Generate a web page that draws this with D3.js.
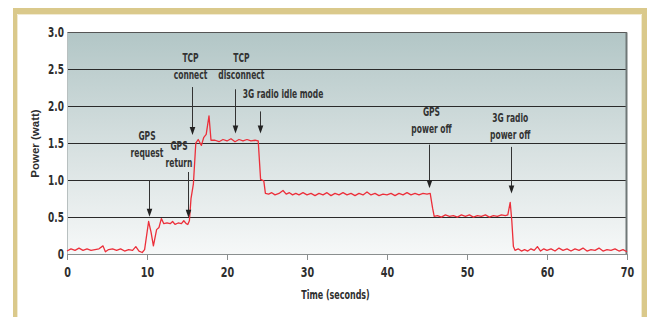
<!DOCTYPE html>
<html>
<head>
<meta charset="utf-8">
<script src="https://cdn.jsdelivr.net/npm/d3@7"></script>
<style>
  body { margin: 0; background: #fff; }
  svg { display: block; }
</style>
</head>
<body>
<div id="chart"></div>
<script>
// power trace (seconds, watt)
var times = [0, 0.5, 1, 1.5, 2, 2.5, 3, 3.5, 4, 4.5, 4.8, 5.2, 5.7, 6.2, 6.7, 7.2, 7.7, 8.2, 8.6, 9, 9.4, 9.7,
    10.2, 10.5, 10.8, 11.2, 11.5, 11.8, 12.1, 12.5, 12.9, 13.2, 13.5, 13.9, 14.3, 14.6, 14.9, 15.1, 15.3,
    15.5, 15.8, 16.1, 16.4, 16.8, 17.1, 17.4, 17.75, 18, 18.5, 19, 19.5, 20, 20.5, 21, 21.5, 22, 22.5, 23, 23.5, 23.9,
    24.2, 24.6, 24.8, 25.2, 25.6, 26, 26.5, 27, 27.4, 27.8, 28.2, 28.6, 29, 29.5, 30, 30.5, 31, 31.5, 32, 32.5,
    33, 33.5, 34, 34.5, 35, 35.5, 36, 36.5, 37, 37.5, 38, 38.5, 39, 39.5, 40, 40.5, 41, 41.5, 42, 42.5, 43, 43.5,
    44, 44.5, 45, 45.4, 45.7, 45.9, 46.3, 46.8, 47.3, 47.8, 48.3, 48.8, 49.3, 49.8, 50.3, 50.8, 51.3, 51.8, 52.3,
    52.8, 53.3, 53.8, 54.3, 54.8, 55.1, 55.4, 55.6, 55.8, 56, 56.4, 56.8, 57.2, 57.6, 58, 58.4, 58.8, 59.2, 59.6,
    60, 60.5, 61, 61.5, 62, 62.5, 63, 63.5, 64, 64.5, 65, 65.5, 66, 66.5, 67, 67.5, 68, 68.5, 69, 69.5, 70];
var power = [0.04, 0.07, 0.05, 0.08, 0.05, 0.07, 0.05, 0.06, 0.07, 0.11, 0.03, 0.06, 0.07, 0.05, 0.07, 0.04, 0.06, 0.05, 0.1, 0.04, 0.02, 0.06,
    0.44, 0.3, 0.11, 0.33, 0.36, 0.48, 0.41, 0.42, 0.41, 0.44, 0.4, 0.42, 0.41, 0.45, 0.41, 0.4, 0.45,
    0.75, 0.95, 1.5, 1.55, 1.47, 1.58, 1.62, 1.87, 1.54, 1.54, 1.52, 1.55, 1.53, 1.56, 1.52, 1.55, 1.53, 1.55, 1.53, 1.54, 1.53,
    1.01, 0.99, 0.82, 0.81, 0.83, 0.8, 0.82, 0.86, 0.81, 0.83, 0.8, 0.82, 0.8, 0.83, 0.8, 0.82, 0.79, 0.82, 0.8, 0.83,
    0.79, 0.82, 0.8, 0.83, 0.8, 0.82, 0.79, 0.82, 0.8, 0.84, 0.8, 0.82, 0.79, 0.81, 0.8, 0.82, 0.79, 0.82, 0.8, 0.83, 0.8, 0.82,
    0.8, 0.82, 0.81, 0.82, 0.62, 0.51, 0.52, 0.5, 0.53, 0.51, 0.52, 0.5, 0.53, 0.51, 0.53, 0.5, 0.52, 0.51, 0.53,
    0.5, 0.52, 0.51, 0.53, 0.52, 0.53, 0.7, 0.45, 0.1, 0.05, 0.07, 0.04, 0.06, 0.04, 0.07, 0.05, 0.1, 0.04, 0.07,
    0.05, 0.07, 0.04, 0.08, 0.05, 0.07, 0.04, 0.07, 0.05, 0.08, 0.04, 0.06, 0.05, 0.08, 0.04, 0.06, 0.05, 0.07, 0.04, 0.06, 0.03];

var xTicks = [0, 10, 20, 30, 40, 50, 60, 70];
var yTicks = [0, 0.5, 1, 1.5, 2, 2.5, 3];
var yTickLabels = ["0", "0.5", "1.0", "1.5", "2.0", "2.5", "3.0"];

// event annotations
var noteLines = [["GPS", "request"], ["GPS", "return"], ["TCP", "connect"], ["TCP", "disconnect"],
    ["3G radio idle mode"], ["GPS", "power off"], ["3G radio", "power off"]];
var noteTime = [10.2, 15.16, 15.6, 21.0, 24.1, 45.3, 55.5];
var noteFrom = [1.0, 1.11, 2.26, 2.23, 1.93, 1.48, 1.45];
var noteTo = [0.505, 0.49, 1.61, 1.63, 1.63, 0.89, 0.82];
var noteLabelT = [10.0, 14.0, 15.44, 21.8, 27.0, 45.56, 55.4];
var noteLabelW = [1.543, 1.408, 2.599, 2.599, 2.112, 1.872, 1.791];

var W = 647, H = 317;
var narrow = "'Liberation Sans Narrow', 'DejaVu Sans Condensed', 'Arial Narrow', sans-serif";

var svg = d3.select("#chart").append("svg")
    .attr("width", W)
    .attr("height", H);

// tan frame
svg.append("path")
    .attr("d", "M13,8H660V330H13Z M17,14V330H642V14Z")
    .attr("fill", "#dac98b")
    .attr("fill-rule", "evenodd");
svg.append("path")
    .attr("d", "M17.5,330V14.5H641.5V330")
    .attr("fill", "none")
    .attr("stroke", "#f1ead2")
    .attr("stroke-width", 1);

var x = d3.scaleLinear().domain([0, 70]).range([67, 627]);
var y = d3.scaleLinear().domain([0, 3]).range([254, 32.4]);

// plot background gradient
var grad = svg.append("defs").append("linearGradient")
    .attr("id", "bg")
    .attr("x1", 0).attr("y1", 0).attr("x2", 0).attr("y2", 1);
grad.append("stop").attr("offset", "0%").attr("stop-color", "#b2c6c6");
grad.append("stop").attr("offset", "55%").attr("stop-color", "#d9e2e2");
grad.append("stop").attr("offset", "100%").attr("stop-color", "#f6f8f8");

svg.append("rect")
    .attr("x", x(0))
    .attr("y", y(3))
    .attr("width", x(70) - x(0))
    .attr("height", y(0) - y(3))
    .attr("fill", "url(#bg)");

// horizontal grid lines
svg.append("g")
    .selectAll("line")
    .data(yTicks.filter(function(d) { return d > 0; }))
    .enter()
    .append("line")
    .attr("x1", x(0))
    .attr("x2", x(70))
    .attr("y1", function(d) { return Math.round(y(d)) + 0.5; })
    .attr("y2", function(d) { return Math.round(y(d)) + 0.5; })
    .attr("stroke", function(d) { return d == 3 ? "#555" : "#2a2a2a"; })
    .attr("stroke-width", 1);

// left and right edges of plot
svg.append("line")
    .attr("x1", x(0) + 0.5).attr("x2", x(0) + 0.5)
    .attr("y1", y(3)).attr("y2", y(0))
    .attr("stroke", "#b8c0c0");
svg.append("line")
    .attr("x1", x(70) - 0.5).attr("x2", x(70) - 0.5)
    .attr("y1", y(3)).attr("y2", y(0))
    .attr("stroke", "#6f7777")
    .attr("stroke-width", 2);

// x axis
var xAxis = svg.append("g")
    .attr("transform", "translate(0," + Math.round(y(0)) + ")")
    .call(d3.axisBottom(x).tickValues(xTicks).tickSize(6).tickPadding(6).tickFormat(d3.format("d")));
xAxis.select(".domain").attr("stroke", "#8a8f8f");
xAxis.selectAll(".tick line").attr("stroke", "#8a8f8f");
xAxis.selectAll(".tick text")
    .attr("y", 23)
    .attr("dy", null)
    .attr("x", 0)
    .attr("transform", "scale(0.74,1)")
    .style("font-family", narrow)
    .style("font-weight", "bold")
    .style("font-size", "14.5px")
    .attr("fill", "#2e2e2e");

// y tick labels
svg.append("g")
    .selectAll("text")
    .data(yTicks)
    .enter()
    .append("text")
    .attr("transform", function(d) { return "translate(64," + (y(d) + 4.5) + ") scale(0.74,1)"; })
    .style("text-anchor", "end")
    .style("font-family", narrow)
    .style("font-weight", "bold")
    .style("font-size", "13.5px")
    .attr("fill", "#2e2e2e")
    .text(function(d, i) { return yTickLabels[i]; });

// axis titles
svg.append("text")
    .attr("transform", "translate(38.5," + 143.5 + ") rotate(-90)")
    .style("text-anchor", "middle")
    .style("font-family", "'Liberation Sans', Arial, sans-serif")
    .style("font-weight", "bold")
    .style("font-size", "11.5px")
    .attr("fill", "#2e2e2e")
    .text("Power (watt)");

svg.append("text")
    .attr("transform", "translate(335.5,299) scale(0.71,1)")
    .style("text-anchor", "middle")
    .style("font-family", narrow)
    .style("font-weight", "bold")
    .style("font-size", "12.5px")
    .attr("fill", "#2e2e2e")
    .text("Time (seconds)");

// power line
var line = d3.line()
    .x(function(d, i) { return x(times[i]); })
    .y(function(d) { return y(d); });

svg.append("path")
    .datum(power)
    .attr("d", line)
    .attr("fill", "none")
    .attr("stroke", "#ec2f3a")
    .attr("stroke-width", 1.3)
    .attr("stroke-linejoin", "round");

// annotations
var notes = svg.append("g");
noteLines.forEach(function(lines, i) {
    var ax = Math.round(x(noteTime[i])) + 0.5;
    var y0 = y(noteFrom[i]), y1 = y(noteTo[i]);
    notes.append("line")
        .attr("x1", ax).attr("x2", ax)
        .attr("y1", y0).attr("y2", y1 - 6)
        .attr("stroke", "#333")
        .attr("stroke-width", 1);
    notes.append("path")
        .attr("d", "M" + (ax - 2.8) + "," + (y1 - 8) + "L" + (ax + 2.8) + "," + (y1 - 8) + "L" + ax + "," + y1 + "Z")
        .attr("fill", "#222");

    lines.forEach(function(txt, j) {
        notes.append("text")
            .attr("transform", "translate(" + x(noteLabelT[i]) + "," + (y(noteLabelW[i]) + j * 17) + ") scale(0.7,1)")
            .style("text-anchor", "middle")
            .style("font-family", narrow)
            .style("font-weight", "bold")
            .style("font-size", "12px")
            .attr("fill", "#333")
            .text(txt);
    });
});
</script>
</body>
</html>
